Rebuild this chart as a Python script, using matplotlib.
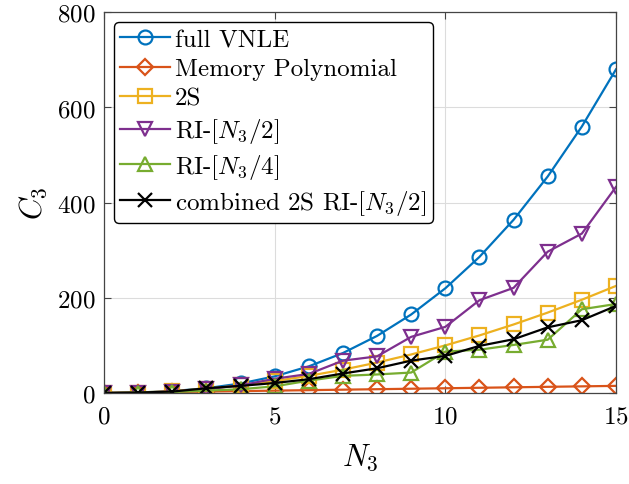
import matplotlib
matplotlib.use("Agg")
import matplotlib.pyplot as plt

plt.rcParams['font.family'] = 'serif'
plt.rcParams['font.serif'] = ['cmr10']
plt.rcParams['mathtext.fontset'] = 'cm'
plt.rcParams['axes.formatter.use_mathtext'] = True

# memory length N3 and number of third-order coefficients C3
n3 = list(range(16))
full_vnle = [0, 1, 4, 10, 20, 35, 56, 84, 120, 165, 220, 286, 364, 455, 560, 680]
mem_poly = [0, 1, 2, 3, 4, 5, 6, 7, 8, 9, 10, 11, 12, 13, 14, 15]
two_s = [0, 1, 4, 9, 16, 25, 36, 49, 64, 81, 100, 121, 144, 169, 196, 225]
ri_half = [0, 1, 3, 8, 16, 30, 40, 68, 77, 118, 139, 195, 221, 297, 335, 433]
ri_quarter = [0, 1, 2, 5, 8, 14, 26, 36, 39, 43, 87, 91, 101, 112, 176, 187]
combined = [0, 1, 3, 10, 15, 21, 29, 41, 52, 68, 78, 99, 113, 138, 153, 183]

labels = ['full VNLE', 'Memory Polynomial', '2S', r'RI-$[N_3/2]$',
          r'RI-$[N_3/4]$', r'combined 2S RI-$[N_3/2]$']
series = [full_vnle, mem_poly, two_s, ri_half, ri_quarter, combined]
colors = ['#0072BD', '#D95319', '#EDB120', '#7E2F8E', '#77AC30', 'k']
markers = ['o', 'D', 's', 'v', '^', 'x']
sizes = [10, 8.5, 9.5, 10, 10, 10]

fig = plt.figure(figsize=(6.29, 4.85), dpi=100)
ax = fig.add_axes([0.1653, 0.1876, 0.814, 0.785])

for y, lab, c, m, ms in zip(series, labels, colors, markers, sizes):
    ax.plot(n3, y, color=c, marker=m, markersize=ms, markerfacecolor='none',
            markeredgewidth=1.6, linewidth=1.6, label=lab)

ax.set_xlim(0, 15)
ax.set_ylim(0, 800)
ax.set_xticks([0, 5, 10, 15])
ax.set_yticks([0, 200, 400, 600, 800])
ax.grid(True, color='#dcdcdc', linewidth=0.8)
ax.set_axisbelow(True)
ax.tick_params(direction='in', top=True, right=True, labelsize=18, length=5,
               color='#444444')
ax.tick_params(axis='x', pad=9)
ax.tick_params(axis='y', pad=6)
for s in ax.spines.values():
    s.set_color('#444444')
    s.set_linewidth(0.9)

ax.set_xlabel(r'$N_3$', fontsize=22, labelpad=10)
ax.set_ylabel(r'$C_3$', fontsize=22, labelpad=6)

leg = ax.legend(loc='upper left', fontsize=18, handlelength=2.0,
                handletextpad=0.2, borderpad=0.25, labelspacing=0.27,
                borderaxespad=0.4, fancybox=True, framealpha=1)
leg.get_frame().set_edgecolor('k')
leg.get_frame().set_linewidth(1.0)

fig.savefig('out.png', dpi=100)
